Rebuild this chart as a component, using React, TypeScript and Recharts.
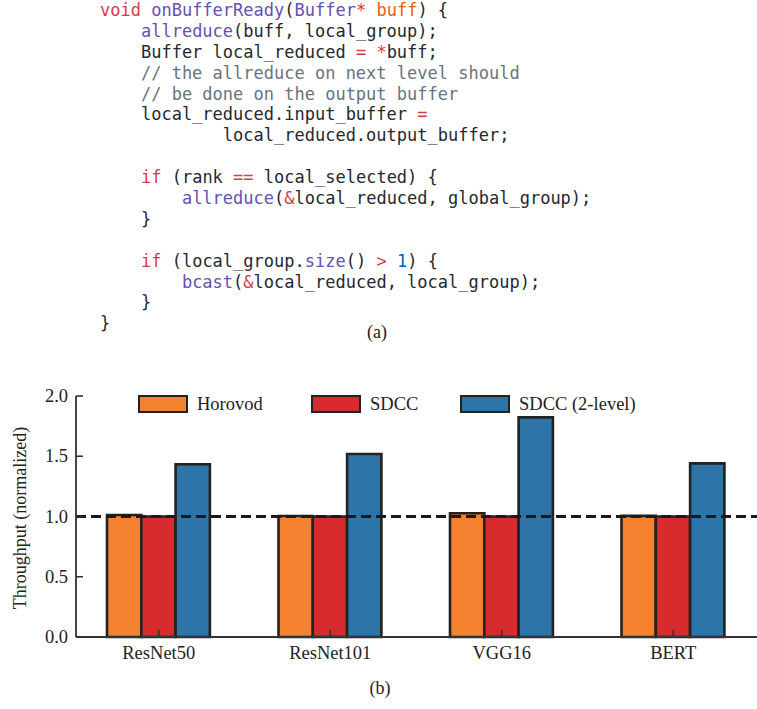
import React from 'react';
import { BarChart, Bar, XAxis, YAxis, ReferenceLine, Legend } from 'recharts';

const categories = ['ResNet50', 'ResNet101', 'VGG16', 'BERT'];
const horovod = [1.012, 1.004, 1.027, 1.005];
const sdcc = [1.0, 1.0, 1.0, 1.0];
const sdcc2level = [1.433, 1.519, 1.823, 1.441];
const yTicks = [0, 0.5, 1.0, 1.5, 2.0];
const seriesKeys = ['horovod', 'sdcc', 'sdcc2'];
const seriesNames = ['Horovod', 'SDCC', 'SDCC (2-level)'];
const seriesColors = ['#f3812f', '#d82b2e', '#2d75a8'];
const baseline = 1.0;

const data = categories.map((c, i) => ({
  name: c,
  horovod: horovod[i],
  sdcc: sdcc[i],
  sdcc2: sdcc2level[i],
}));

const C = {
  kw: '#d73a49',
  fn: '#6650b0',
  pa: '#e36209',
  cm: '#6a737d',
  nu: '#005cc5',
  tx: '#24292e',
};

type Tok = [string, string];
const codeLines: Tok[][] = [
  [['void', C.kw], [' ', C.tx], ['onBufferReady', C.fn], ['(', C.tx], ['Buffer', C.fn], ['*', C.kw], [' ', C.tx], ['buff', C.pa], [') {', C.tx]],
  [['    ', C.tx], ['allreduce', C.fn], ['(buff, local_group);', C.tx]],
  [['    Buffer local_reduced ', C.tx], ['=', C.kw], [' ', C.tx], ['*', C.kw], ['buff;', C.tx]],
  [['    // the allreduce on next level should', C.cm]],
  [['    // be done on the output buffer', C.cm]],
  [['    local_reduced.input_buffer ', C.tx], ['=', C.kw]],
  [['            local_reduced.output_buffer;', C.tx]],
  [['', C.tx]],
  [['    ', C.tx], ['if', C.kw], [' (rank ', C.tx], ['==', C.kw], [' local_selected) {', C.tx]],
  [['        ', C.tx], ['allreduce', C.fn], ['(', C.tx], ['&', C.kw], ['local_reduced, global_group);', C.tx]],
  [['    }', C.tx]],
  [['', C.tx]],
  [['    ', C.tx], ['if', C.kw], [' (local_group.', C.tx], ['size', C.fn], ['() ', C.tx], ['>', C.kw], [' ', C.tx], ['1', C.nu], [') {', C.tx]],
  [['        ', C.tx], ['bcast', C.fn], ['(', C.tx], ['&', C.kw], ['local_reduced, local_group);', C.tx]],
  [['    }', C.tx]],
  [['}', C.tx]],
];

const SERIF = '"Liberation Serif", "Times New Roman", serif';
const AXIS = '#333333';

const YTick = (props: any) => {
  const { x, y, payload } = props;
  return (
    <g>
      <line x1={x + 8} x2={x + 15} y1={y} y2={y} stroke={AXIS} strokeWidth={1.6} />
      <text x={x} y={y} dy={6} textAnchor="end" fontFamily={SERIF} fontSize={18.5} fill="#222">
        {Number(payload.value).toFixed(1)}
      </text>
    </g>
  );
};

const XTick = (props: any) => {
  const { x, y, payload } = props;
  return (
    <g>
      <line x1={x} x2={x} y1={y} y2={y - 7} stroke={AXIS} strokeWidth={1.6} />
      <text x={x} y={y + 22} textAnchor="middle" fontFamily={SERIF} fontSize={18.5} fill="#222">
        {payload.value}
      </text>
    </g>
  );
};

const itemWidths = [173, 149, undefined];

const renderLegend = () => (
  <div style={{ display: 'flex', alignItems: 'center', fontFamily: SERIF, fontSize: 18.5, lineHeight: '18px', color: '#222' }}>
    {seriesNames.map((n, i) => (
      <div key={n} style={{ display: 'flex', alignItems: 'center', width: itemWidths[i], flex: 'none' }}>
        <span
          style={{
            display: 'inline-block',
            width: 46,
            height: 14,
            background: seriesColors[i],
            border: '2px solid #222',
            marginRight: 9,
            boxSizing: 'content-box',
          }}
        />
        <span style={{ whiteSpace: 'nowrap' }}>{n}</span>
      </div>
    ))}
  </div>
);

const YLabel = () => (
  <text x={20} y={518} transform="rotate(-90, 20, 518)" textAnchor="middle" dominantBaseline="central" fontFamily={SERIF} fontSize={18} fill="#222">
    Throughput (normalized)
  </text>
);

export default function App() {
  return (
    <div style={{ position: 'absolute', left: 0, top: 0, width: 757, height: 709, overflow: 'hidden', background: '#fff' }}>
      <pre
        style={{
          position: 'absolute',
          left: 100,
          top: 0,
          margin: 0,
          fontFamily: '"DejaVu Sans Mono", monospace',
          fontSize: 17,
          lineHeight: '20.9px',
          color: C.tx,
        }}
      >
        {codeLines.map((line, li) => (
          <div key={li} style={{ height: 20.9 }}>
            {line.map((t, ti) => (
              <span key={ti} style={{ color: t[1] }}>{t[0]}</span>
            ))}
          </div>
        ))}
      </pre>
      <div style={{ position: 'absolute', left: 377, top: 322, transform: 'translateX(-50%)', fontFamily: SERIF, fontSize: 18, color: '#222' }}>
        (a)
      </div>
      <div style={{ position: 'absolute', left: 0, top: 0 }}>
        <BarChart
          width={757}
          height={709}
          data={data}
          margin={{ top: 396, right: 0, bottom: 42, left: 16 }}
          barGap={0}
          barSize={34.3}
        >
          <XAxis
            dataKey="name"
            height={30}
            padding={{ left: -3, right: -2 }}
            axisLine={{ stroke: AXIS, strokeWidth: 1.8 }}
            tickLine={false}
            tickSize={0}
            tickMargin={0}
            tick={<XTick />}
            interval={0}
          />
          <YAxis
            width={60}
            domain={[0, 2]}
            ticks={yTicks}
            axisLine={{ stroke: AXIS, strokeWidth: 1.8 }}
            tickLine={false}
            tickSize={0}
            tickMargin={8}
            tick={<YTick />}
            label={<YLabel />}
          />
          <Legend
            layout="horizontal"
            verticalAlign="middle"
            align="center"
            content={renderLegend}
            wrapperStyle={{ top: 395, left: 138, width: 560, height: 18 }}
          />
          {seriesKeys.map((k, i) => (
            <Bar
              key={k}
              dataKey={k}
              name={seriesNames[i]}
              fill={seriesColors[i]}
              stroke="#222"
              strokeWidth={2.6}
              isAnimationActive={false}
            />
          ))}
          <ReferenceLine y={baseline} stroke="#1a1a1a" strokeWidth={3} strokeDasharray="10 5" />
        </BarChart>
      </div>
      <div style={{ position: 'absolute', left: 380, top: 678, transform: 'translateX(-50%)', fontFamily: SERIF, fontSize: 18, color: '#222' }}>
        (b)
      </div>
    </div>
  );
}
